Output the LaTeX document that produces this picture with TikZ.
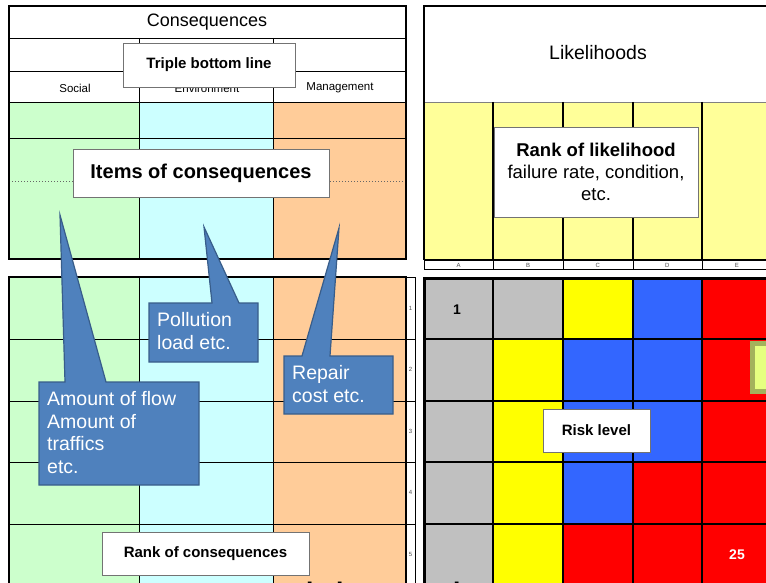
\documentclass[tikz,border=0pt]{standalone}
\usepackage{fontspec}
\setmainfont{Liberation Sans}
\definecolor{socialgreen}{HTML}{CCFFCC}
\definecolor{envcyan}{HTML}{CCFFFF}
\definecolor{mgmtorange}{HTML}{FFCC99}
\definecolor{likeyellow}{HTML}{FFFF99}
\definecolor{riskgray}{HTML}{C0C0C0}
\definecolor{riskyellow}{HTML}{FFFF00}
\definecolor{riskblue}{HTML}{3366FF}
\definecolor{riskred}{HTML}{FF0000}
\definecolor{calloutblue}{HTML}{4F81BD}
\definecolor{calloutedge}{HTML}{385D8A}
\definecolor{notegreen}{HTML}{E6FF80}
\definecolor{noteedge}{HTML}{A3B25C}

\begin{document}
\begin{tikzpicture}[x=1pt,y=-1pt,
    labelbox/.style={draw=black!55,fill=white,line width=0.8pt,inner sep=0pt},
    callout/.style={fill=calloutblue,draw=calloutedge,line width=1.2pt},
    callouttext/.style={text=white,align=left,inner sep=0pt,anchor=north west,
        font=\fontsize{19.5}{22.8}\selectfont},
    tinylabel/.style={font=\fontsize{6}{6}\selectfont,text=black!70,inner sep=0pt}]

    \clip (0,0) rectangle (766,583);
    \fill[white] (0,0) rectangle (766,583);

    % draw the consequences table
    \fill[socialgreen] (9,102) rectangle (139,259);
    \fill[envcyan] (139,102) rectangle (273,259);
    \fill[mgmtorange] (273,102) rectangle (406,259);
    \foreach \y in {38,71,102,138}
        \draw[line width=0.9pt] (9,\y) -- (406,\y);
    \draw[black!60,dotted,line width=1pt] (9,182) -- (406,182);
    \foreach \x in {139,273}
        \draw[line width=1pt] (\x,38) -- (\x,259);
    \draw[line width=2pt] (9,6) rectangle (406,259);
    \node[font=\fontsize{18}{18}\selectfont] (consequences) at (207,22) {Consequences};
    \foreach \x/\xtext in {75/Social,207/Environment,340/Management}
        \node[font=\fontsize{11.5}{11.5}\selectfont] (\xtext) at (\x,88) {\xtext};

    % draw the rank of consequences table
    \fill[socialgreen] (9,277) rectangle (139,600);
    \fill[envcyan] (139,277) rectangle (273,600);
    \fill[mgmtorange] (273,277) rectangle (406,600);
    \foreach \y in {339,401,462,524}
        \draw[line width=1pt] (9,\y) -- (415,\y);
    \foreach \x in {139,273}
        \draw[line width=1pt] (\x,277) -- (\x,600);
    \draw[line width=2pt] (9,600) -- (9,277) -- (406,277) -- (406,600);
    \draw[line width=0.8pt] (406,277) -- (415,277) -- (415,600);
    \foreach \n [count=\i from 0] in {1,...,5}
        \node[tinylabel] (rank\n) at (410.5,308+61.6*\i) {\n};

    % draw the likelihood table
    \fill[likeyellow] (424,102) rectangle (800,260);
    \draw[black!50,line width=0.8pt] (424,102) -- (800,102);
    \foreach \x in {493,563,633,702}
        \draw[line width=1.8pt] (\x,102) -- (\x,260);
    \draw[line width=2pt] (424,260) -- (424,6) -- (800,6);
    \draw[line width=0.7pt] (424,260) rectangle (800,269);
    \foreach \x in {493,563,633,702}
        \draw[line width=0.7pt] (\x,260) -- (\x,269);
    \draw[line width=2.5pt] (424,260) -- (800,260);
    \foreach \l [count=\i from 0] in {A,B,C,D,E}
        \node[tinylabel] (like\l) at (458.5+69.6*\i,265) {\l};
    \node[font=\fontsize{19.5}{19.5}\selectfont] (likelihoods) at (598,53) {Likelihoods};

    % draw the risk matrix, one row of colours at a time
    \foreach \colors [count=\r from 0] in {
        {riskgray,riskgray,riskyellow,riskblue,riskred},
        {riskgray,riskyellow,riskblue,riskblue,riskred},
        {riskgray,riskyellow,riskblue,riskblue,riskred},
        {riskgray,riskyellow,riskblue,riskred,riskred},
        {riskgray,riskyellow,riskred,riskred,riskred}}
        \foreach \c [count=\k from 0] in \colors
            \fill[\c] (424+69.6*\k,278+61.6*\r) rectangle ++(69.6,61.6);
    \foreach \x in {493,563,633,702}
        \draw[line width=2pt] (\x,278) -- (\x,600);
    \foreach \y in {339,401,462,524}
        \draw[line width=2pt] (424,\y) -- (800,\y);
    \draw[line width=3pt] (424,600) -- (424,278) -- (800,278);
    \node[font=\bfseries\fontsize{14}{14}\selectfont] (lowrisk) at (457,310) {1};
    \node[font=\bfseries\fontsize{14}{14}\selectfont,text=white] (highrisk) at (737,555) {25};
    \node[draw=noteedge,fill=notegreen,line width=5pt,minimum width=50pt,
        minimum height=48pt,anchor=north west] (note) at (749.5,340.5) {};

    % the callouts with the items
    \coordinate (flowtip) at (60,215);
    \coordinate (pollutiontip) at (204,227);
    \coordinate (repairtip) at (339,228);
    \draw[callout] (39,382) -- (65,382) -- (flowtip) -- (106,382) -- (199,382)
        -- (199,485) -- (39,485) -- cycle;
    \draw[callout] (149,303) -- (212,303) -- (pollutiontip) -- (239,303) -- (258,303)
        -- (258,362) -- (149,362) -- cycle;
    \draw[callout] (284,356) -- (302,356) -- (repairtip) -- (330,356) -- (393,356)
        -- (393,414) -- (284,414) -- cycle;
    \node[callouttext] (flow) at (47,391) {Amount of flow\\Amount of\\traffics\\etc.};
    \node[callouttext] (pollution) at (157,312) {Pollution\\load etc.};
    \node[callouttext] (repair) at (292,365) {Repair\\cost etc.};

    % the white labels
    \node[labelbox,minimum width=172pt,minimum height=44pt,
        font=\bfseries\fontsize{15}{15}\selectfont] (tbl) at (209,65) {Triple bottom line};
    \node[labelbox,minimum width=256pt,minimum height=48pt,
        font=\bfseries\fontsize{20}{20}\selectfont] (items) at (201,173) {Items of consequences};
    \node[labelbox,minimum width=204pt,minimum height=90pt,align=center,
        font=\fontsize{18.5}{22}\selectfont] (ranklike) at (596,172)
        {\textbf{Rank of likelihood}\\failure rate, condition,\\etc.};
    \node[labelbox,minimum width=207pt,minimum height=43pt,
        font=\bfseries\fontsize{15}{15}\selectfont] (rankcons) at (205.5,553.5) {Rank of consequences};
    \node[labelbox,minimum width=107pt,minimum height=43pt,
        font=\bfseries\fontsize{15}{15}\selectfont] (risklevel) at (596.5,430.5) {Risk level};

    % the title, cut by the bottom edge
    \node[anchor=base west,inner sep=0pt,font=\fontsize{42}{42}\selectfont] (title) at (275,612) {Risk matrix};
\end{tikzpicture}
\end{document}
